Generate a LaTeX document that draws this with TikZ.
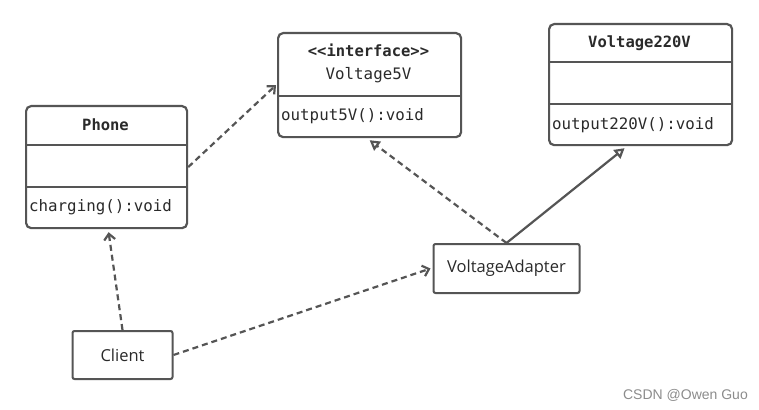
\documentclass[tikz,border=0pt]{standalone}
\usepackage{fontspec}
\setmainfont{Open Sans}
\setmonofont{DejaVu Sans Mono}
\newfontfamily\wmfont{Liberation Sans}
\usetikzlibrary{arrows.meta,calc}
\definecolor{ln}{HTML}{555555}
\definecolor{tx}{HTML}{2A2A2A}
\begin{document}
\begin{tikzpicture}[x=1pt,y=-1pt,
  cls/.style={draw=ln, line width=2.2pt, rounded corners=5pt, inner sep=0pt, anchor=north west, fill=white},
  sbox/.style={draw=ln, line width=2pt, rounded corners=2pt, inner sep=0pt, fill=white, text=tx, font=\fontsize{16.5}{19}\selectfont},
  divl/.style={draw=ln, line width=2pt},
  mono/.style={font=\ttfamily\fontsize{15.8}{18}\selectfont, text=tx, inner sep=0pt},
  monob/.style={font=\ttfamily\bfseries\fontsize{15.5}{18}\selectfont, text=tx, inner sep=0pt},
  dep/.style={draw=ln, line width=2.2pt, dash pattern=on 6pt off 4pt, -{Straight Barb[length=6pt,width=11pt]}},
  real/.style={draw=ln, line width=2.2pt, dash pattern=on 6pt off 4pt, -{Triangle[open,length=10pt,width=11pt,fill=white]}},
  gen/.style={draw=ln, line width=2.2pt, -{Triangle[open,length=10pt,width=11pt,fill=white]}}
]
\useasboundingbox[fill=white] (0,0) rectangle (759,409);

% Phone
\node[cls, minimum width=161pt, minimum height=122pt] (phone) at (25,105) {};
\draw[divl] (25,145) -- (186,145);
\draw[divl] (25,187) -- (186,187);
\node[monob] (phoneT) at (105.5,125) {Phone};
\node[mono, anchor=west] (phoneM) at (29,207) {charging():void};

% Voltage5V
\node[cls, minimum width=183pt, minimum height=104pt] (v5) at (277,32) {};
\draw[divl] (277,96) -- (460,96);
\node[monob] (v5S) at (368.5,50) {<<interface>>};
\node[mono] (v5T) at (368.5,75) {Voltage5V};
\node[mono, anchor=west] (v5M) at (281,116) {output5V():void};

% Voltage220V
\node[cls, minimum width=183pt, minimum height=121pt] (v220) at (548,23) {};
\draw[divl] (548,62) -- (731,62);
\draw[divl] (548,104) -- (731,104);
\node[monob] (v220T) at (639.5,43) {Voltage220V};
\node[mono, anchor=west] (v220M) at (552,125) {output220V():void};

% VoltageAdapter, Client
\node[sbox, minimum width=146pt, minimum height=49pt] (adapter) at (506.5,268.5) {VoltageAdapter};
\node[sbox, minimum width=100pt, minimum height=48pt] (client) at (122.5,355) {Client};

% connectors
\draw[dep] (phone.east) -- ([xshift=-1pt]v5.west);
\draw[dep] (client.north) -- ([xshift=2pt,yshift=-3pt]phone.south);
\draw[dep] (client.east) -- ([xshift=-2pt]adapter.west);
\draw[real] (adapter.north) -- ([yshift=-2pt]v5.south);
\draw[gen] (adapter.north) -- ([xshift=-16pt,yshift=-2pt]v220.south);

% watermark
\node[font=\wmfont\fontsize{14}{16}\selectfont, text=black!45, anchor=east, inner sep=0pt] (wm) at (748,395) {CSDN @Owen Guo};
\end{tikzpicture}
\end{document}
